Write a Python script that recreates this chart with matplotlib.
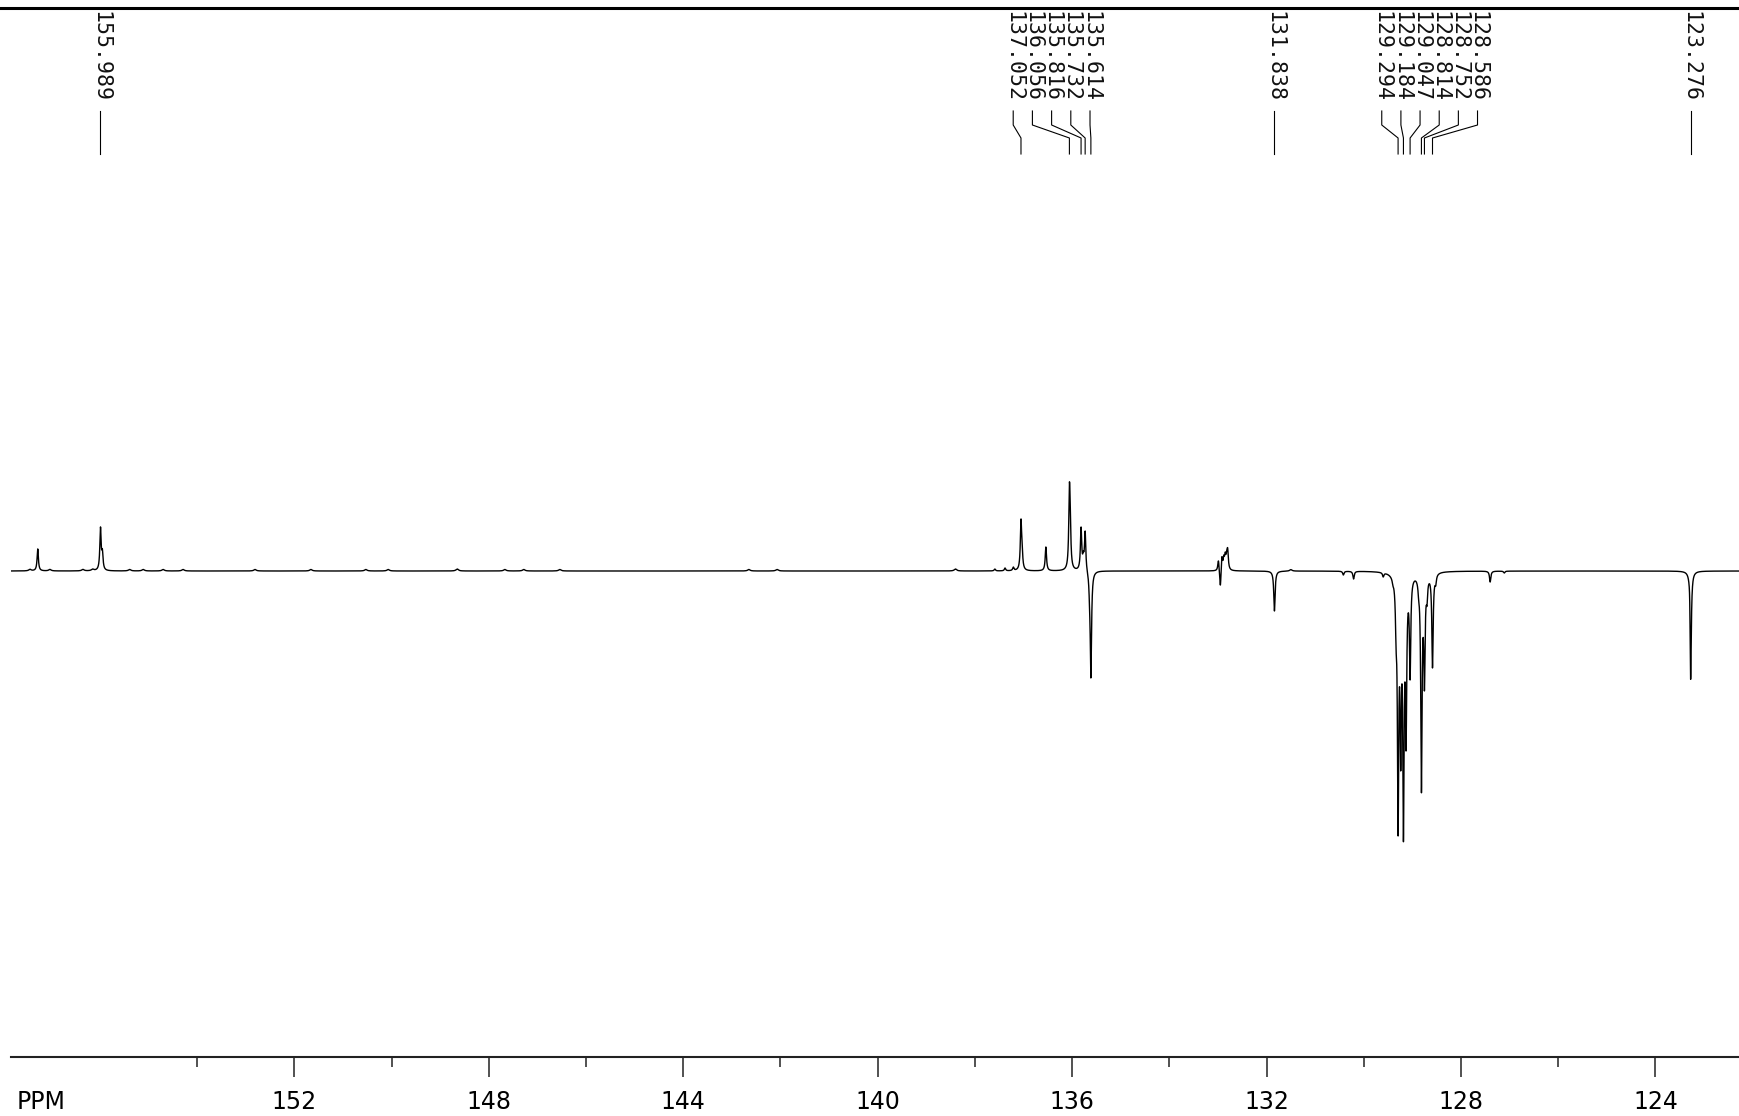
import numpy as np
import matplotlib.pyplot as plt


# --------------------------- DATA ---------------------------
# shifts printed along the top of the plot
labels_ppm = [155.989, 137.052, 136.056, 135.816, 135.732, 135.614, 131.838,
              129.294, 129.184, 129.047, 128.814, 128.752, 128.586, 123.276]

# where each shift label sits (ppm), labels in a crowded group are spread out
label_x = [155.989, 137.212, 136.817, 136.422, 136.027, 135.632, 131.838,
           129.630, 129.236, 128.842, 128.448, 128.054, 127.660, 123.276]

# resolved lines: position [ppm] and apex height [px above baseline, negative = down]
line_ppm = [157.28, 155.989, 155.95,
            137.59, 137.38, 137.21, 137.052, 137.03, 136.54,
            136.056, 136.04, 135.816, 135.77, 135.732, 135.64, 135.614,
            132.99, 132.95, 132.92, 132.88, 132.85, 132.82, 132.80,
            131.838, 130.42, 130.21,
            129.60, 129.40, 129.335, 129.294, 129.24, 129.184, 129.13, 129.047,
            128.87, 128.814, 128.752, 128.70, 128.586, 128.52,
            127.40, 127.11, 123.29, 123.276]
line_int = [22, 44, 22,
            2, 3, 4, 52, 30, 24,
            88, 70, 44, 20, 40, -40, -107,
            10, -14, 14, 16, 19, 21, 23,
            -40, -4, -8,
            -6, -15, -80, -265, -200, -271, -180, -109,
            -30, -222, -120, -35, -97, -15,
            -11, -2, -45, -108]

# tiny baseline bumps
bump_ppm = [157.44, 157.03, 156.35, 156.15, 155.39, 155.11, 154.70, 154.29,
            152.81, 151.66, 150.53, 150.07, 148.65, 147.67, 147.28, 146.54,
            142.65, 142.07, 138.40, 131.50]
bump_int = [1.5, 1.5, 1.5, 1.5, 1.5, 1.5, 1.5, 1.5,
            1.5, 1.5, 1.5, 1.5, 2.0, 1.5, 1.5, 1.5,
            1.5, 1.5, 2.0, 1.5]

x_major = [152, 148, 144, 140, 136, 132, 128, 124]
x_minor = [154, 150, 146, 142, 138, 134, 130, 126]


# --------------------------- FUNCTIONS -------------------------------
def lorentz(x, x0, hw):
    return hw**2 / (hw**2 + (x - x0)**2)


def spectrum(x, pos, apex, hw):
    # Solve for amplitudes so that the summed trace hits the read apex heights
    pos = np.array(pos)
    A = lorentz(pos[:, None], pos[None, :], hw)
    amp = np.linalg.solve(A, np.array(apex, dtype=float))
    y = np.zeros_like(x)
    for p, a in zip(pos, amp):
        y += a * lorentz(x, p, hw)
    return y


# --------------------------- FIGURE ---------------------------
W, H = 1740, 1116
x_left, x_right = 157.83, 122.26
ppm = np.linspace(x_left, x_right, 30000)
y = spectrum(ppm, line_ppm, line_int, 0.016) + spectrum(ppm, bump_ppm, bump_int, 0.03)

fig = plt.figure(figsize=(W / 100, H / 100), dpi=100)
ax = fig.add_axes([11 / W, 59 / H, 1 - 11 / W, 1057 / H])
ax.plot(ppm, y, color='black', lw=1.0)
ax.set_xlim(x_left, x_right)
ax.set_ylim(-486, 571)

for s in ['top', 'left', 'right']:
    ax.spines[s].set_visible(False)
ax.spines['bottom'].set_linewidth(1.5)
ax.spines['bottom'].set_color('#222222')
ax.set_yticks([])
ax.set_xticks(x_major)
ax.set_xticklabels([str(v) for v in x_major])
ax.set_xticks(x_minor, minor=True)
ax.tick_params(axis='x', which='major', direction='out', length=14.5, width=1.1,
               color='#222222', labelsize=17, pad=9)
ax.tick_params(axis='x', which='minor', direction='out', length=7.2, width=1.1,
               color='#222222')

# shift labels with their leader lines
for lab, lx in zip(labels_ppm, label_x):
    ax.text(lx, 560, f'{lab:.3f}', rotation=270, ha='center', va='top',
            family='DejaVu Sans Mono', fontsize=15.5, color='#111111')
    ax.plot([lx, lx, lab, lab], [460, 446, 433, 417], color='black', lw=0.8)

fig.text(17 / W, 1 - 1102 / H, 'PPM', ha='left', va='center', fontsize=17)
fig.add_artist(plt.Line2D([0, 1], [1 - 7.5 / H] * 2, transform=fig.transFigure,
                          color='black', lw=2.2))

fig.savefig('out.png', dpi=100)
